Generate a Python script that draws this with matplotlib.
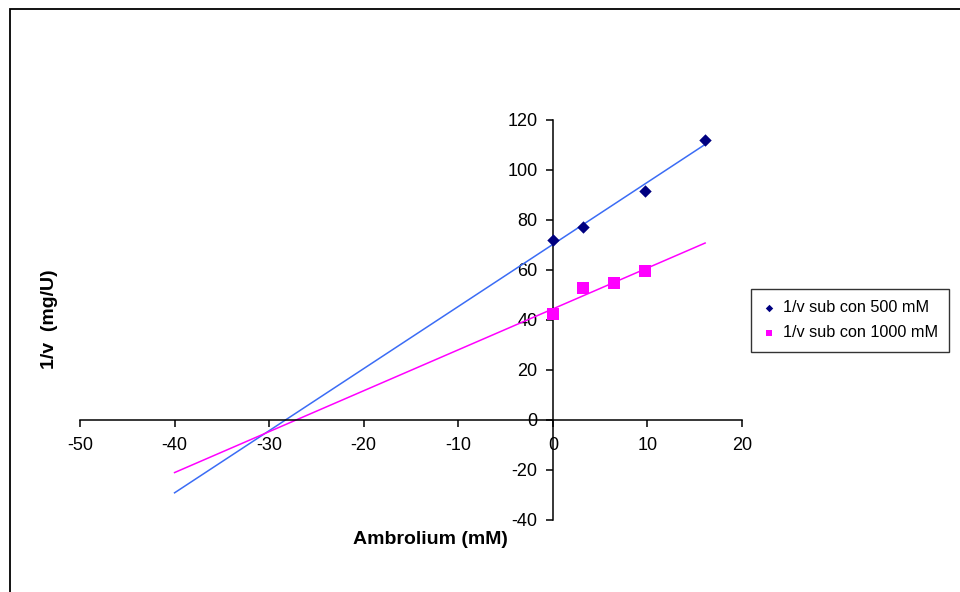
import numpy as np
import matplotlib
matplotlib.use("Agg")
import matplotlib.pyplot as plt
from matplotlib.patches import Rectangle

plt.rcParams['font.family'] = ['Liberation Sans', 'DejaVu Sans']
plt.rcParams['axes.unicode_minus'] = False

# Data
x_500 = [0.0, 3.2, 9.7, 16.1]
y_500 = [72.0, 77.3, 91.7, 112.0]
x_1000 = [0.0, 3.2, 6.5, 9.7]
y_1000 = [42.4, 52.9, 54.7, 59.5]
label_500 = "1/v sub con 500 mM"
label_1000 = "1/v sub con 1000 mM"
x_ticks = [-50, -40, -30, -20, -10, 0, 10, 20]
y_ticks = [-40, -20, 0, 20, 40, 60, 80, 100, 120]
trend_start = -40
trend_end = 16.1

W, H = 960, 592
fig = plt.figure(figsize=(W / 100, H / 100), dpi=100)

# outer chart frame
fig.patches.append(Rectangle((10 / W, -0.1), 1.2, 1 - 9 / H + 0.1, transform=fig.transFigure,
                             fill=False, edgecolor='black', linewidth=1.3))

ax = fig.add_axes([80 / W, (H - 520) / H, 662 / W, 400 / H])
ax.set_xlim(-50, 20)
ax.set_ylim(-40, 120)

for s in ['top', 'right']:
    ax.spines[s].set_visible(False)
ax.spines['left'].set_position(('data', 0))
ax.spines['bottom'].set_position(('data', 0))
for s in ['left', 'bottom']:
    ax.spines[s].set_linewidth(1.1)

ax.set_xticks(x_ticks)
ax.set_yticks(y_ticks)
ax.tick_params(axis='both', direction='out', length=5, width=1.1, labelsize=13)
ax.tick_params(axis='x', pad=7)
ax.tick_params(axis='y', pad=6)

# trend lines (linear regression)
xt = np.array([trend_start, trend_end])
m1, b1 = np.polyfit(x_500, y_500, 1)
m2, b2 = np.polyfit(x_1000, y_1000, 1)
ax.plot(xt, m1 * xt + b1, color='#3b6cf5', linewidth=1.1, zorder=2)
ax.plot(xt, m2 * xt + b2, color='#ff00ff', linewidth=1.1, zorder=2)

ax.scatter(x_500, y_500, marker='D', s=40, color='#000080', label=label_500, zorder=3, linewidths=0)
ax.scatter(x_1000, y_1000, marker='s', s=64, color='#ff00ff', label=label_1000, zorder=3, linewidths=0)

fig.text(430 / W, 1 - 539 / H, "Ambrolium (mM)", ha='center', va='center', fontsize=14, fontweight='bold')
fig.text(50 / W, 1 - 319 / H, "1/v  (mg/U)", ha='center', va='center', rotation=90, fontsize=14, fontweight='bold')

leg = fig.legend(loc='upper left', bbox_to_anchor=(751 / W, 1 - 289 / H), fontsize=11.7,
                 frameon=True, fancybox=False, edgecolor='black', handlelength=0.8,
                 handletextpad=0.45, borderpad=0.7, labelspacing=0.6, markerscale=0.6,
                 borderaxespad=0)
leg.get_frame().set_linewidth(1.0)

fig.savefig("out.png", dpi=100)
